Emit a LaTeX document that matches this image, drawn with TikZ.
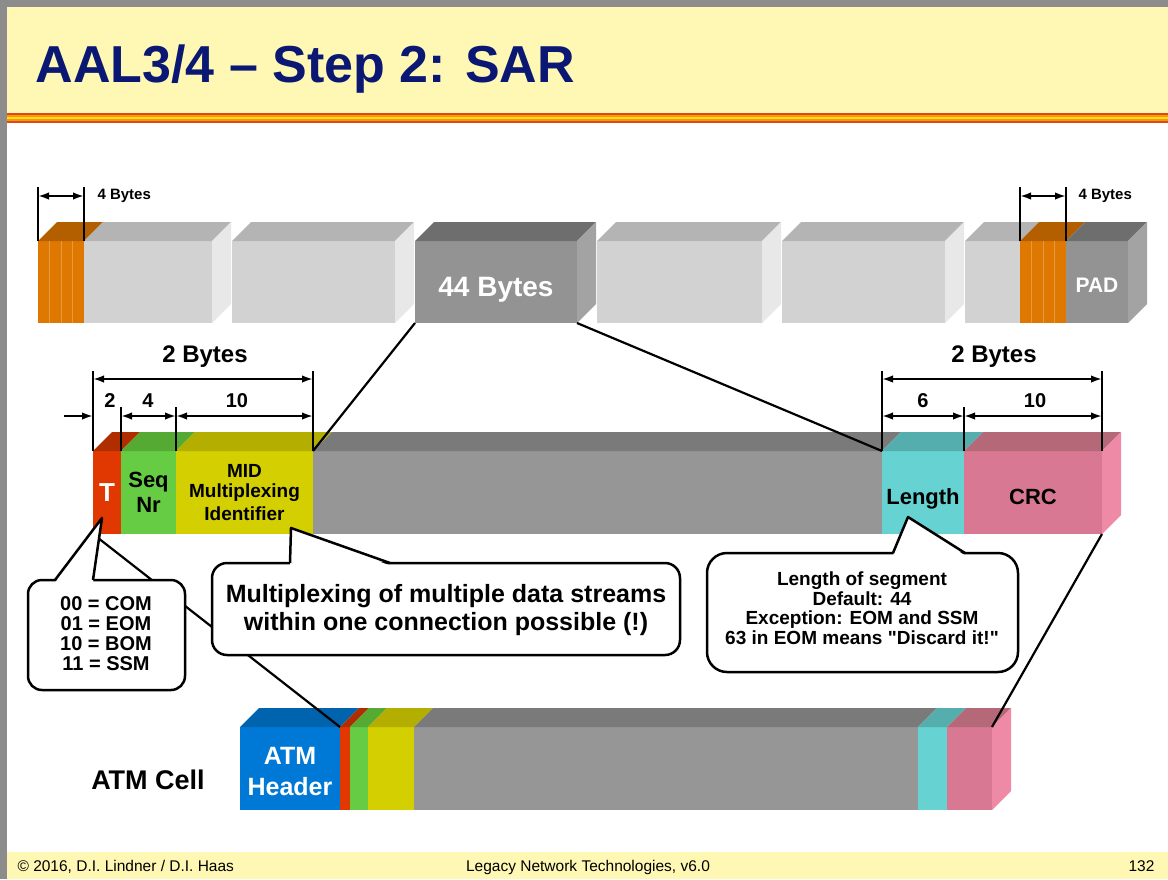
\documentclass[tikz,border=0pt]{standalone}
\usepackage{fontspec}
\setmainfont{Liberation Sans}[Ligatures=TeXOff]
\usetikzlibrary{arrows.meta}

\definecolor{titleblue}{HTML}{0A1873}
\definecolor{slideyellow}{HTML}{FFF8B4}
\definecolor{framegray}{HTML}{8C8C8C}
\definecolor{stripered}{HTML}{E04818}
\definecolor{stripeorange}{HTML}{F7941D}
\definecolor{stripeyellow}{HTML}{FFE400}
\definecolor{trailorange}{HTML}{DE7800}
\definecolor{trailorangetop}{HTML}{B35F00}
\definecolor{lightfront}{HTML}{D2D2D2}
\definecolor{lighttop}{HTML}{B4B4B4}
\definecolor{lightside}{HTML}{E8E8E8}
\definecolor{darkfront}{HTML}{939393}
\definecolor{darktop}{HTML}{6E6E6E}
\definecolor{darkside}{HTML}{A3A3A3}
\definecolor{typered}{HTML}{E03800}
\definecolor{typeredtop}{HTML}{B02D00}
\definecolor{seqgreen}{HTML}{66CC44}
\definecolor{seqgreentop}{HTML}{55AA33}
\definecolor{midyellow}{HTML}{D3CF00}
\definecolor{midyellowtop}{HTML}{B3AE00}
\definecolor{paygray}{HTML}{969696}
\definecolor{paygraytop}{HTML}{7A7A7A}
\definecolor{lencyan}{HTML}{66D2D2}
\definecolor{lencyantop}{HTML}{55AEAE}
\definecolor{crcpink}{HTML}{D87892}
\definecolor{crcpinktop}{HTML}{B46878}
\definecolor{crcpinkside}{HTML}{EE8AA6}
\definecolor{hdrblue}{HTML}{0079D6}
\definecolor{hdrbluetop}{HTML}{0063AD}

% top and side faces of a block (front face = node #1)
\newcommand{\topface}[2]{%
  \fill[#2] (#1.north west) -- ++(19,-19) -- ([shift={(19,-19)}]#1.north east) -- (#1.north east) -- cycle;}
\newcommand{\sideface}[2]{%
  \fill[#2] (#1.north east) -- ++(19,-19) -- ([shift={(19,-19)}]#1.south east) -- (#1.south east) -- cycle;}
% label set with its baseline #1 below the centre of the block
\newcommand{\lowered}[2]{\raisebox{-#1}[0pt][0pt]{#2}}
% pointer of a speech bubble: base x #1 and #2 on top edge y #3, tip #4
\newcommand{\pointer}[4]{%
  \fill[white] (#1,#3+2.5) -- (#4) -- (#2,#3+2.5) -- cycle;
  \draw[line width=2.5pt, line join=round] (#1,#3) -- (#4) -- (#2,#3);}

\begin{document}
\begin{tikzpicture}[x=1pt, y=-1pt,
  face/.style={rectangle, inner sep=0pt, outer sep=0pt, anchor=north west, align=center},
  dim/.style={{Latex[length=11pt,width=7.5pt]}-{Latex[length=11pt,width=7.5pt]}, line width=2pt},
  dimin/.style={-{Latex[length=11pt,width=7.5pt]}, line width=2pt},
  ext/.style={line width=2.2pt},
  link/.style={line width=2.2pt},
  callout/.style={draw=black, fill=white, line width=2.5pt},
  segtext/.style={font=\fontsize{22}{25}\selectfont\bfseries},
  dimtext/.style={font=\fontsize{20}{22}\selectfont\bfseries},
  boxtext/.style={font=\fontsize{20}{20}\selectfont\bfseries, align=center},
  foottext/.style={font=\fontsize{15.5}{17}\selectfont, anchor=base}]
  \useasboundingbox (0,0) rectangle (1168,879);

  % --- Slide frame, header, footer ---
  \fill[white] (0,0) rectangle (1168,879);
  \fill[slideyellow] (7,7) rectangle (1168,113);
  \fill[stripered] (7,113) rectangle (1168,115);
  \fill[stripeorange] (7,115) rectangle (1168,117);
  \fill[stripeyellow] (7,117) rectangle (1168,119);
  \fill[stripeorange] (7,119) rectangle (1168,121);
  \fill[stripered] (7,121) rectangle (1168,123);
  \fill[slideyellow] (7,852) rectangle (1168,879);
  \fill[framegray] (0,0) rectangle (1168,7);
  \fill[framegray] (0,0) rectangle (7,879);
  \node[font=\fontsize{52}{56}\selectfont\bfseries, text=titleblue, anchor=base west] (title) at (32,82) {AAL3/4 – Step 2: SAR};
  \node[foottext, anchor=base west] (copy) at (14,871) {© 2016, D.I. Lindner / D.I. Haas};
  \node[foottext] (course) at (588,871) {Legacy Network Technologies, v6.0};
  \node[foottext, anchor=base east] (page) at (1158,871) {132};

  % --- Top bar: CPCS-PDU ---
  \node[face, fill=trailorange, minimum width=46, minimum height=82] (trailA) at (38,241) {};
  \node[face, fill=lightfront, minimum width=128, minimum height=82] (segA) at (84,241) {};
  \node[face, fill=lightfront, minimum width=163, minimum height=82] (segB) at (232,241) {};
  \node[face, fill=darkfront, minimum width=162, minimum height=82, text=white, font=\fontsize{28}{30}\selectfont\bfseries] (seg44) at (415,241) {\lowered{14pt}{44 Bytes}};
  \node[face, fill=lightfront, minimum width=165, minimum height=82] (segC) at (597,241) {};
  \node[face, fill=lightfront, minimum width=163, minimum height=82] (segD) at (782,241) {};
  \node[face, fill=lightfront, minimum width=55, minimum height=82] (segE) at (965,241) {};
  \node[face, fill=trailorange, minimum width=46, minimum height=82] (trailB) at (1020,241) {};
  \node[face, fill=darkfront, minimum width=62, minimum height=82, text=white, font=\fontsize{21}{23}\selectfont\bfseries] (pad) at (1066,241) {\lowered{10.5pt}{PAD}};
  \foreach \n/\c in {trailA/trailorangetop, segA/lighttop, segB/lighttop, seg44/darktop, segC/lighttop, segD/lighttop, segE/lighttop, trailB/trailorangetop, pad/darktop}
    \topface{\n}{\c};
  \foreach \n/\c in {segA/lightside, segB/lightside, seg44/darkside, segC/lightside, segD/lightside, pad/darkside}
    \sideface{\n}{\c};
  \foreach \n in {trailA, trailB}
    \foreach \k in {1,2,3}
      \draw[trailorange!75!white, line width=0.6pt] ([xshift=\k*11.5pt]\n.north west) -- ([xshift=\k*11.5pt]\n.south west);

  % 4 Bytes dimensions
  \draw[ext] (trailA.north west) -- (trailA.north west |- 0,187);
  \draw[ext] (trailA.north east) -- (trailA.north east |- 0,187);
  \draw[dim] (trailA.north west |- 0,196) -- (trailA.north east |- 0,196);
  \node[font=\fontsize{15}{17}\selectfont\bfseries, anchor=west] (lblFourL) at (94,196) {4 Bytes};
  \draw[ext] (trailB.north west) -- (trailB.north west |- 0,187);
  \draw[ext] (trailB.north east) -- (trailB.north east |- 0,187);
  \draw[dim] (trailB.north west |- 0,196) -- (trailB.north east |- 0,196);
  \node[font=\fontsize{15}{17}\selectfont\bfseries, anchor=west] (lblFourR) at (1075,196) {4 Bytes};

  % --- Middle bar: SAR-PDU ---
  \node[face, fill=typered, minimum width=28, minimum height=83, text=white, font=\fontsize{26}{28}\selectfont\bfseries] (sarT) at (93,451) {T};
  \node[face, fill=seqgreen, minimum width=55, minimum height=83, segtext] (sarSeq) at (121,451) {Seq\\Nr};
  \node[face, fill=midyellow, minimum width=137, minimum height=83, font=\fontsize{19}{23}\selectfont\bfseries] (sarMid) at (176,451) {\raisebox{-3pt}{MID}\\Multiplexing\\Identifier};
  \node[face, fill=paygray, minimum width=569, minimum height=83] (sarPay) at (313,451) {};
  \node[face, fill=lencyan, minimum width=82, minimum height=83, segtext] (sarLen) at (882,451) {\lowered{12pt}{Length}};
  \node[face, fill=crcpink, minimum width=138, minimum height=83, segtext] (sarCrc) at (964,451) {\lowered{12pt}{CRC}};
  \foreach \n/\c in {sarT/typeredtop, sarSeq/seqgreentop, sarMid/midyellowtop, sarPay/paygraytop, sarLen/lencyantop, sarCrc/crcpinktop}
    \topface{\n}{\c};
  \sideface{sarCrc}{crcpinkside};

  % header dimensions
  \draw[ext] (sarT.north west) -- (sarT.north west |- 0,371);
  \draw[ext] (sarMid.north east) -- (sarMid.north east |- 0,371);
  \draw[ext] (sarSeq.north west) -- (sarSeq.north west |- 0,407);
  \draw[ext] (sarMid.north west) -- (sarMid.north west |- 0,407);
  \draw[dim] (sarT.north west |- 0,379) -- (sarMid.north east |- 0,379);
  \coordinate (tIn) at (64,416);
  \draw[dimin] (tIn) -- (sarT.north west |- tIn);
  \draw[dim] (sarSeq.north west |- 0,416) -- (sarMid.north west |- 0,416);
  \draw[dim] (sarMid.north west |- 0,416) -- (sarMid.north east |- 0,416);
  \node[font=\fontsize{24}{26}\selectfont\bfseries] (lblTwoL) at (205,357) {2 Bytes};
  \node[dimtext] (lblT) at (110,401) {2};
  \node[dimtext] (lblSeq) at (148,401) {4};
  \node[dimtext] (lblMid) at (237,401) {10};

  % trailer dimensions
  \draw[ext] (sarLen.north west) -- (sarLen.north west |- 0,371);
  \draw[ext] (sarCrc.north east) -- (sarCrc.north east |- 0,371);
  \draw[ext] (sarCrc.north west) -- (sarCrc.north west |- 0,407);
  \draw[dim] (sarLen.north west |- 0,379) -- (sarCrc.north east |- 0,379);
  \draw[dim] (sarLen.north west |- 0,416) -- (sarCrc.north west |- 0,416);
  \draw[dim] (sarCrc.north west |- 0,416) -- (sarCrc.north east |- 0,416);
  \node[font=\fontsize{24}{26}\selectfont\bfseries] (lblTwoR) at (994,357) {2 Bytes};
  \node[dimtext] (lblLen) at (923,401) {6};
  \node[dimtext] (lblCrc) at (1035,401) {10};

  % --- ATM cell ---
  \node[face, fill=hdrblue, minimum width=100, minimum height=83, text=white, font=\fontsize{25}{31}\selectfont\bfseries] (atmHdr) at (240,727) {\lowered{12pt}{\begin{tabular}{@{}c@{}}ATM\\Header\end{tabular}}};
  \node[face, fill=typered, minimum width=10, minimum height=83] (atmT) at (340,727) {};
  \node[face, fill=seqgreen, minimum width=18, minimum height=83] (atmSeq) at (350,727) {};
  \node[face, fill=midyellow, minimum width=46, minimum height=83] (atmMid) at (368,727) {};
  \node[face, fill=paygray, minimum width=504, minimum height=83] (atmPay) at (414,727) {};
  \node[face, fill=lencyan, minimum width=29, minimum height=83] (atmLen) at (918,727) {};
  \node[face, fill=crcpink, minimum width=45, minimum height=83] (atmCrc) at (947,727) {};
  \foreach \n/\c in {atmHdr/hdrbluetop, atmT/typeredtop, atmSeq/seqgreentop, atmMid/midyellowtop, atmPay/paygraytop, atmLen/lencyantop, atmCrc/crcpinktop}
    \topface{\n}{\c};
  \sideface{atmCrc}{crcpinkside};
  \node[font=\fontsize{27}{29}\selectfont\bfseries] (atmLbl) at (148,780) {ATM Cell};

  % --- Mapping lines ---
  \draw[link] (seg44.south west) -- (sarPay.north west);
  \draw[link] (seg44.south east) -- (sarPay.north east);
  \draw[link] (sarT.south west) -- (atmT.north west);
  \draw[link] (sarCrc.south east) -- (atmCrc.north east);

  % --- Callouts ---
  \coordinate (typeTip) at (102,518);
  \coordinate (midTip) at (291,528);
  \coordinate (lenTip) at (908,517);

  \draw[callout, rounded corners=14pt] (28,580) rectangle (185,690);
  \pointer{55}{93}{580}{typeTip}
  \node[boxtext] (typeNote) at (106,634) {00 = COM\\01 = EOM\\10 = BOM\\11 = SSM};

  \draw[callout, rounded corners=15pt] (212,563) rectangle (680,655);
  \pointer{290}{390}{563}{midTip}
  \node[font=\fontsize{25}{28}\selectfont\bfseries, align=center] (midNote) at (446,610) {Multiplexing of multiple data streams\\within one connection possible (!)};

  \draw[callout, rounded corners=20pt] (707,553) rectangle (1018,672);
  \pointer{893}{965}{553}{lenTip}
  \node[font=\fontsize{19}{19.5}\selectfont\bfseries, align=center] (lenNote) at (862,608) {Length of segment\\Default: 44\\Exception: EOM and SSM\\63 in EOM means "Discard it!"};
\end{tikzpicture}
\end{document}
